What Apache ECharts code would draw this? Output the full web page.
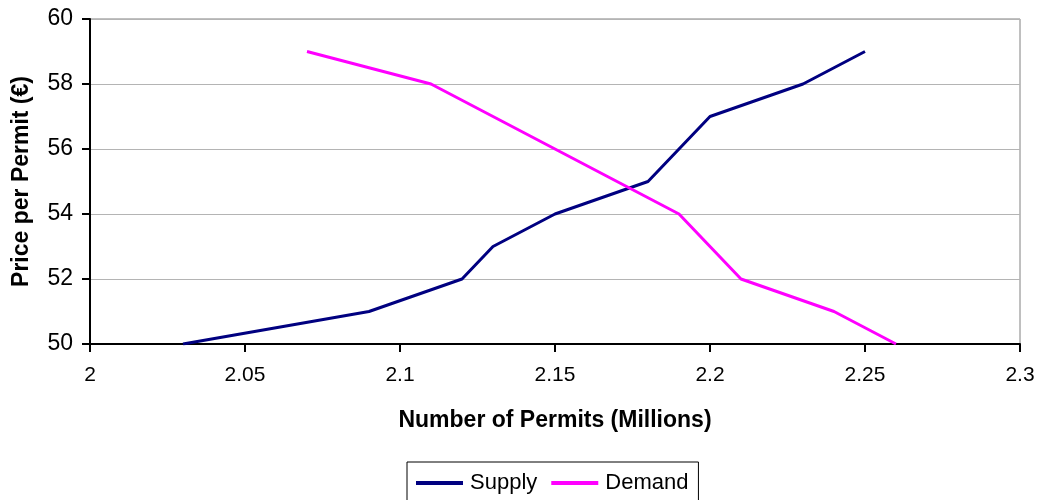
<!DOCTYPE html>
<html>
<head>
<meta charset="utf-8">
<script src="https://cdn.jsdelivr.net/npm/echarts@6/dist/echarts.min.js"></script>
<style>
  html, body { margin: 0; padding: 0; background: #fff; }
  #main { width: 1041px; height: 500px; }
</style>
</head>
<body>
<div id="main"></div>
<script>
// permits (millions) vs price (€)
const supplyX = [2.03, 2.09, 2.12, 2.13, 2.15, 2.18, 2.20, 2.23, 2.25];
const supplyY = [50, 51, 52, 53, 54, 55, 57, 58, 59];
const demandX = [2.07, 2.11, 2.15, 2.19, 2.21, 2.24, 2.26];
const demandY = [59, 58, 56, 54, 52, 51, 50];

const pairs = (xs, ys) => xs.map((x, i) => [x, ys[i]]);

const chart = echarts.init(document.getElementById('main'));
const font = 'Liberation Sans, Arial, sans-serif';

option = {
    animation: false,
    grid: {
        left: 90,
        right: 21,
        top: 19,
        bottom: 156,
        show: true,
        borderColor: '#808080',
        borderWidth: 1
    },
    legend: {
        top: 462,
        left: 407,
        icon: 'rect',
        itemWidth: 47,
        itemHeight: 4,
        itemGap: 14,
        padding: [10, 10, 14, 9],
        borderColor: '#000',
        borderWidth: 1,
        textStyle: { fontFamily: font, fontSize: 22, color: '#000', padding: [0, 0, 0, 2] },
        data: ['Supply', 'Demand']
    },
    xAxis: {
        type: 'value',
        min: 2,
        max: 2.3,
        interval: 0.05,
        name: 'Number of Permits (Millions)',
        nameLocation: 'middle',
        nameGap: 65,
        nameTextStyle: { fontFamily: font, fontSize: 23, fontWeight: 'bold', color: '#000' },
        axisLine: { lineStyle: { color: '#000', width: 2 } },
        axisTick: { inside: false, length: 8, lineStyle: { color: '#000', width: 2 } },
        axisLabel: {
            margin: 21,
            fontFamily: font, fontSize: 21, color: '#000',
            formatter: (v) => String(+v.toFixed(2))
        },
        splitLine: { show: false }
    },
    yAxis: {
        type: 'value',
        min: 50,
        max: 60,
        interval: 2,
        name: 'Price per Permit (€)',
        nameLocation: 'middle',
        nameGap: 57,
        nameTextStyle: { fontFamily: font, fontSize: 23, fontWeight: 'bold', color: '#000' },
        axisLine: { show: true, lineStyle: { color: '#000', width: 2 } },
        axisTick: { show: true, inside: false, length: 8, lineStyle: { color: '#000', width: 2 } },
        axisLabel: { margin: 17, fontFamily: font, fontSize: 23, color: '#000' },
        splitLine: { lineStyle: { color: '#b4b4b4', width: 1 } }
    },
    series: [
        {
            name: 'Supply',
            type: 'line',
            data: pairs(supplyX, supplyY),
            showSymbol: false,
            color: '#000080',
            lineStyle: { width: 3 }
        },
        {
            name: 'Demand',
            type: 'line',
            data: pairs(demandX, demandY),
            showSymbol: false,
            color: '#ff00ff',
            lineStyle: { width: 3 }
        }
    ]
};

chart.setOption(option);
</script>
</body>
</html>
